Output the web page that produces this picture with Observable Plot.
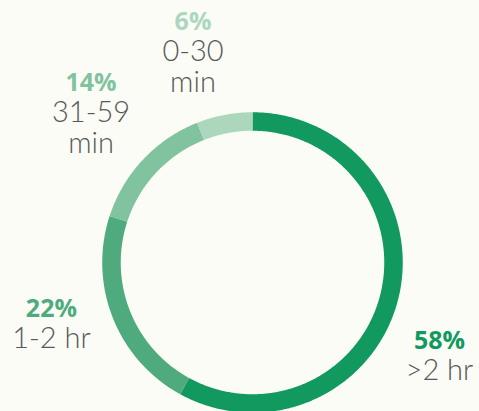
<!DOCTYPE html>
<html>
<head>
<meta charset="utf-8">
<script src="https://cdn.jsdelivr.net/npm/d3@7"></script>
<script src="https://cdn.jsdelivr.net/npm/@observablehq/plot@0.6"></script>
<style>
  html, body { margin: 0; padding: 0; background: #fbfcf6; }
  #chart svg { display: block; }
</style>
</head>
<body>
<div id="chart"></div>
<script>
// ---- data ----
const categories = [">2 hr", "1-2 hr", "31-59\nmin", "0-30\nmin"];
const shares = [58, 22, 14, 6];
const percentLabels = ["58%", "22%", "14%", "6%"];

// ---- style / layout (not data) ----
const sliceColors = ["#11995f", "#4fab7d", "#80c39e", "#acd7bd"];
// label anchor (baseline of percent line) in ring units (ring mid-radius = 1)
const labelX = [1.326, -1.426, -1.145, -0.422];
const labelY = [-0.612, -0.388, 1.215, 1.650];

const pie = d3.pie().sort(null).value(d => d.share);
const slices = pie(categories.map((c, i) => ({cat: c, share: shares[i]})));

// sample each arc along the ring (angle clockwise from 12 o'clock)
const ringPts = [];
slices.forEach(s => {
  const n = Math.max(2, Math.ceil((s.endAngle - s.startAngle) / (Math.PI / 360)));
  for (let k = 0; k <= n; k++) {
    const a = s.startAngle + (s.endAngle - s.startAngle) * k / n;
    ringPts.push({cat: s.data.cat, x: Math.sin(a), y: Math.cos(a)});
  }
});

const labels = categories.map((c, i) => ({
  cat: c, pct: percentLabels[i], x: labelX[i], y: labelY[i]
}));

const chart = Plot.plot({
  width: 479,
  height: 411,
  marginLeft: 111,
  marginRight: 86,
  marginTop: 121,
  marginBottom: 8,
  style: {background: "#fbfcf6", fontFamily: "'Open Sans', sans-serif", overflow: "visible"},
  x: {domain: [-1, 1], axis: null},
  y: {domain: [-1, 1], axis: null},
  color: {domain: categories, range: sliceColors},
  marks: [
    Plot.line(ringPts, {
      x: "x", y: "y", z: "cat", stroke: "cat",
      strokeWidth: 18.5, strokeLinecap: "butt", strokeLinejoin: "round", curve: "linear"
    }),
    Plot.text(labels, {
      x: "x", y: "y", text: "pct", fill: "cat",
      fontSize: 25, fontWeight: 700, lineAnchor: "bottom", textAnchor: "middle"
    }),
    Plot.text(labels, {
      x: "x", y: "y", text: "cat", fill: "#585858",
      fontFamily: "Lato, 'Open Sans', sans-serif",
      fontSize: 29, fontWeight: 300, lineHeight: 1.07, lineAnchor: "top", textAnchor: "middle", dy: 9
    })
  ]
});
document.getElementById("chart").append(chart);
</script>
</body>
</html>
